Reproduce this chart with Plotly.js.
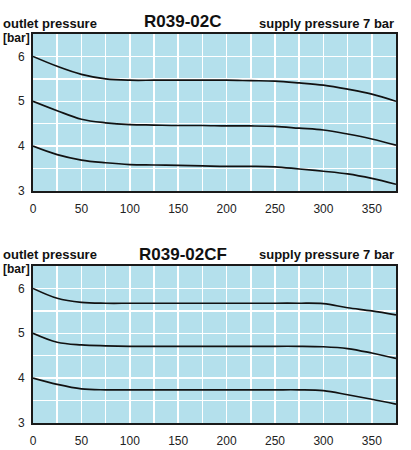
<!DOCTYPE html>
<html>
<head>
<meta charset="utf-8">
<script src="https://cdn.plot.ly/plotly-3.0.1.min.js"></script>
<style>html,body{margin:0;padding:0;background:#fff;}#chart{width:411px;height:450px;}</style>
</head>
<body>
<div id="chart"></div>
<script>
// Flow values (x axis)
var flow = [0, 25, 50, 75, 100, 125, 150, 175, 200, 225, 250, 275, 300, 325, 350, 375];

// R039-02C outlet pressure curves [bar]
var c_set6 = [6.0, 5.78, 5.6, 5.5, 5.47, 5.47, 5.47, 5.47, 5.47, 5.46, 5.45, 5.41, 5.36, 5.27, 5.16, 5.0];
var c_set5 = [5.0, 4.79, 4.6, 4.52, 4.48, 4.47, 4.46, 4.46, 4.45, 4.45, 4.44, 4.4, 4.36, 4.27, 4.16, 4.02];
var c_set4 = [4.0, 3.81, 3.69, 3.63, 3.59, 3.58, 3.57, 3.56, 3.55, 3.55, 3.54, 3.49, 3.44, 3.38, 3.28, 3.15];

// R039-02CF outlet pressure curves [bar]
var cf_set6 = [6.0, 5.78, 5.69, 5.67, 5.67, 5.67, 5.67, 5.67, 5.67, 5.67, 5.67, 5.67, 5.66, 5.57, 5.5, 5.41];
var cf_set5 = [5.0, 4.8, 4.74, 4.72, 4.71, 4.71, 4.71, 4.71, 4.71, 4.71, 4.71, 4.71, 4.7, 4.66, 4.56, 4.44];
var cf_set4 = [4.0, 3.86, 3.76, 3.74, 3.74, 3.74, 3.74, 3.74, 3.74, 3.74, 3.74, 3.74, 3.72, 3.63, 3.53, 3.42];

// Text
var titles = ["R039-02C", "R039-02CF"];
var leftLabel = "outlet pressure";
var unitLabel = "[bar]";
var rightLabel = "supply pressure 7 bar";
var xTicks = [0, 50, 100, 150, 200, 250, 300, 350];
var yTicks = [3, 4, 5, 6];

var lineStyle = {color: "#111", width: 1.7, shape: "spline", smoothing: 1.0};
function tr(y, xa, ya) {
  return {x: flow, y: y, xaxis: xa, yaxis: ya, mode: "lines", line: lineStyle, hoverinfo: "skip", showlegend: false};
}
var data = [
  tr(c_set6, "x", "y"), tr(c_set5, "x", "y"), tr(c_set4, "x", "y"),
  tr(cf_set6, "x2", "y2"), tr(cf_set5, "x2", "y2"), tr(cf_set4, "x2", "y2")
];

var font = {family: "Liberation Sans, Arial, sans-serif", size: 12, color: "#222"};
function xax(anchor) {
  return {
    range: [0, 375], tickvals: xTicks, ticks: "", ticklabelstandoff: 6,
    showgrid: true, gridcolor: "#ffffff", gridwidth: 1.5,
    minor: {dtick: 25, tick0: 0, showgrid: true, gridcolor: "#ffffff", gridwidth: 1.5},
    showline: true, mirror: true, linecolor: "#1a1a1a", linewidth: 2,
    zeroline: false, anchor: anchor, tickfont: font, fixedrange: true
  };
}
function yax(anchor, domain) {
  return {
    range: [3, 6.5], tickvals: yTicks, ticks: "", ticklabelstandoff: 4,
    showgrid: true, gridcolor: "#ffffff", gridwidth: 1.5,
    minor: {dtick: 0.5, tick0: 3, showgrid: true, gridcolor: "#ffffff", gridwidth: 1.5},
    showline: true, mirror: true, linecolor: "#1a1a1a", linewidth: 2,
    zeroline: false, anchor: anchor, domain: domain, tickfont: font, fixedrange: true
  };
}

var bold = {family: "Liberation Sans, Arial, sans-serif", size: 13, color: "#111", weight: "bold"};
var boldUnit = {family: "Liberation Sans, Arial, sans-serif", size: 12, color: "#111", weight: "bold"};
var boldTitle = {family: "Liberation Sans, Arial, sans-serif", size: 17, color: "#111", weight: "bold"};
function ann(text, x, y, xanchor, f) {
  return {text: text, x: x, y: y, xref: "paper", yref: "paper", xanchor: xanchor, yanchor: "middle", showarrow: false, font: f};
}
var annotations = [
  ann(titles[0], 0.4132, 1.0334, "center", boldTitle),
  ann(rightLabel, 1.0, 1.028, "right", bold),
  ann(leftLabel, -0.0882, 1.028, "left", bold),
  ann(unitLabel, -0.0882, 0.990, "left", boldUnit),
  ann(titles[1], 0.4132, 0.4344, "center", boldTitle),
  ann(rightLabel, 1.0, 0.4344, "right", bold),
  ann(leftLabel, -0.0882, 0.4344, "left", bold),
  ann(unitLabel, -0.0882, 0.3960, "left", boldUnit)
];

var layout = {
  width: 411, height: 450,
  margin: {l: 33, r: 15, t: 34, b: 27, pad: 0},
  paper_bgcolor: "#ffffff", plot_bgcolor: "#b4e0ec",
  font: font, showlegend: false,
  xaxis: xax("y"), yaxis: yax("x", [0.5964, 1]),
  xaxis2: xax("y2"), yaxis2: yax("x2", [0, 0.4036]),
  annotations: annotations
};
Plotly.newPlot("chart", data, layout, {displayModeBar: false, staticPlot: true});
</script>
</body>
</html>
